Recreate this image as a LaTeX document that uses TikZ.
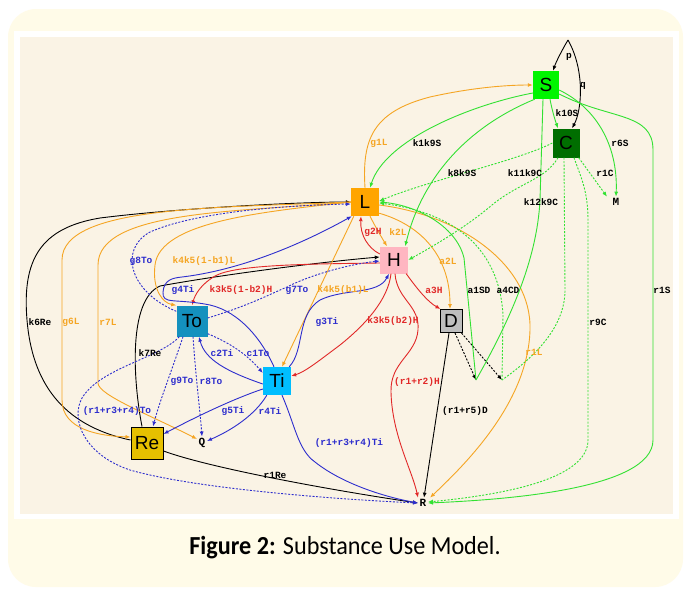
\documentclass[tikz,border=0pt]{standalone}
\usepackage{fontspec}
\setmainfont{Liberation Sans}
\newfontfamily\labfont{Liberation Mono}
\newfontfamily\capfont{Carlito}
\usetikzlibrary{arrows.meta,calc}
\definecolor{cS}{RGB}{0,245,0}
\definecolor{cC}{RGB}{0,110,0}
\definecolor{cL}{RGB}{255,165,0}
\definecolor{cH}{RGB}{255,182,193}
\definecolor{cD}{RGB}{190,190,190}
\definecolor{cTo}{RGB}{20,145,190}
\definecolor{cTi}{RGB}{0,190,255}
\definecolor{cRe}{RGB}{230,192,0}
\definecolor{eG}{RGB}{50,225,50}
\definecolor{eO}{RGB}{245,165,35}
\definecolor{eB}{RGB}{45,45,205}
\definecolor{eR}{RGB}{225,40,40}
\definecolor{bgIn}{RGB}{250,243,229}
\definecolor{bgOut}{RGB}{255,251,232}
\tikzset{
  box/.style={draw=none, inner sep=0pt, font=\fontsize{19}{19}\selectfont},
  pnode/.style={font=\labfont\bfseries\fontsize{11}{11}\selectfont, inner sep=1.5pt},
  lb/.style={font=\labfont\bfseries\fontsize{9.5}{10}\selectfont, inner sep=0pt},
  ar/.style={-{Latex[length=5pt,width=4pt]}, line width=0.9pt},
  ln/.style={line width=0.9pt},
  dsh/.style={dash pattern=on 2pt off 1.5pt},
}
\begin{document}
\begin{tikzpicture}[x=1pt,y=-1pt]
\useasboundingbox (0,0) rectangle (690,592);
\fill[white] (0,0) rectangle (690,592);
\fill[bgOut] (8,9) [rounded corners=28pt] rectangle (683,587);
\fill[white] (14,31) rectangle (679,519);
\fill[bgIn] (20,37) rectangle (673,514);

% nodes
\node[box,fill=cS,minimum width=26pt,minimum height=28pt] (S) at (546,85) {S};
\node[box,fill=cC,minimum width=27pt,minimum height=29pt] (C) at (566,143) {C};
\node[box,fill=cL,minimum width=28pt,minimum height=28pt] (L) at (365,202) {L};
\node[box,fill=cH,minimum width=28pt,minimum height=27pt] (H) at (394,260) {H};
\node[box,fill=cD,draw=black,line width=1pt,minimum width=22pt,minimum height=23pt] (D) at (451,321) {D};
\node[box,fill=cTo,minimum width=31pt,minimum height=31pt] (To) at (192,321) {To};
\node[box,fill=cTi,minimum width=28pt,minimum height=28pt] (Ti) at (277,381) {Ti};
\node[box,fill=cRe,draw=black,line width=1pt,minimum width=32pt,minimum height=32pt] (Re) at (147,443) {Re};
\node[pnode] (M) at (616,202) {M};
\node[pnode] (Q) at (202,443) {Q};
\node[pnode] (R) at (423,503) {R};
\coordinate (P0) at (568,40);
\coordinate (J1) at (476,380);
\coordinate (J2) at (502,380);

% black edges
\draw[ar] (P0) .. controls (562,50) and (556,62) .. ($(S.north)+(7,0)$);
\draw[ar] (P0) .. controls (585,70) and (582,110) .. ($(C.north)+(6,0)$);
\draw[ar] ($(Re.west)+(0,-3)$) .. controls (60,425) and (32,380) .. (27,320) .. controls (22,260) and (40,228) .. (100,218) .. controls (180,208) and (300,202) .. (L.west);
\draw[ar] ($(Re.north)+(-5,0)$) .. controls (133,380) and (128,300) .. (160,286) .. controls (220,275) and (320,262) .. ($(H.west)+(0,-3)$);
\draw[ar] ($(Re.east)+(0,8)$) .. controls (210,468) and (330,490) .. (R.west);
\draw[ar] ($(D.south)+(-2,0)$) -- ($(R.north)+(1,0)$);
\draw[ar,dsh] ($(D.south)+(4,0)$) -- (J1);
\draw[ar,dsh] ($(D.south east)+(-1,0)$) -- (J2);

% orange edges
\draw[ar,eO] (L.north) .. controls (362,140) and (372,112) .. (430,97) .. controls (470,88) and (505,85) .. (S.west);
\draw[ar,eO] (L.west) .. controls (220,208) and (62,205) .. (62,260) -- (62,400) .. controls (62,430) and (100,436) .. ($(Re.west)+(0,-6)$);
\draw[ar,eO] (L.west) .. controls (240,212) and (98,210) .. (98,265) -- (98,383) .. controls (98,395) and (150,415) .. ($(Q.west)+(0,-4)$);
\draw[ar,eO] (L.west) .. controls (260,212) and (160,222) .. (155,265) .. controls (152,290) and (163,303) .. (To.north west);
\draw[ar,eO] ($(L.south west)+(3,0)$) -- ($(Ti.north)+(5,0)$);
\draw[ar,eO] ($(L.south)+(5,0)$) .. controls (376,228) and (382,238) .. ($(H.north)+(-7,0)$);
\draw[ar,eO] ($(L.south east)+(0,-3)$) .. controls (420,225) and (450,255) .. ($(D.north)+(-1,0)$);
\draw[ar,eO] ($(L.east)+(0,3)$) .. controls (460,215) and (532,265) .. (530,330) .. controls (528,400) and (470,460) .. ($(R.north east)+(2,0)$);

% red edges
\draw[ar,eR] ($(H.west)+(0,-6)$) .. controls (368,248) and (360,235) .. ($(L.south)+(-4,0)$);
\draw[ar,eR] ($(H.west)+(0,3)$) .. controls (300,264) and (235,265) .. (215,276) .. controls (200,285) and (195,295) .. (To.north);
\draw[ar,eR] ($(H.south)+(-3,0)$) .. controls (388,300) and (365,325) .. (340,345) .. controls (320,360) and (305,372) .. ($(Ti.east)+(0,-5)$);
\draw[ar,eR] ($(H.south east)+(-2,0)$) .. controls (418,290) and (428,302) .. ($(D.north west)+(1,0)$);
\draw[ar,eR] ($(H.south)+(1,0)$) .. controls (397,300) and (420,305) .. (418,330) .. controls (416,355) and (390,362) .. (391,392) .. controls (392,435) and (412,470) .. ($(R.north)+(-5,0)$);

% blue edges
\draw[ar,eB] ($(Ti.north)+(-3,0)$) .. controls (262,340) and (240,312) .. (210,305) .. controls (175,298) and (162,305) .. (163,292) .. controls (164,280) and (172,278) .. (182,277) .. controls (240,270) and (300,245) .. ($(L.south west)+(1,0)$);
\draw[ar,eB] ($(Ti.north east)+(-2,0)$) .. controls (305,350) and (296,315) .. (320,300) .. controls (345,288) and (378,295) .. ($(H.south)+(-5,0)$);
\draw[ar,eB] ($(Ti.west)+(0,3)$) .. controls (228,372) and (205,360) .. ($(To.south)+(7,0)$);
\draw[ar,eB] ($(Ti.west)+(0,8)$) .. controls (230,400) and (190,420) .. ($(Re.east)+(0,-9)$);
\draw[ar,eB] ($(Ti.south west)+(4,0)$) .. controls (255,415) and (232,430) .. ($(Q.east)+(0,-2)$);
\draw[ar,eB] ($(Ti.south)+(5,0)$) .. controls (295,425) and (298,450) .. (315,462) .. controls (340,482) and (380,496) .. (R.west);
\draw[ar,eB,dsh] ($(To.north west)+(0,6)$) .. controls (130,292) and (118,250) .. (150,232) .. controls (200,210) and (300,205) .. ($(L.west)+(0,2)$);
\draw[ar,eB,dsh] ($(To.east)+(0,-3)$) .. controls (250,305) and (268,295) .. (287,287) .. controls (310,275) and (350,264) .. ($(H.west)+(0,1)$);
\draw[ar,eB,dsh] ($(To.south east)+(0,-3)$) .. controls (235,345) and (250,358) .. ($(Ti.west)+(0,-8)$);
\draw[ar,eB,dsh] ($(To.south)+(-9,0)$) .. controls (172,370) and (160,400) .. ($(Re.north)+(6,0)$);
\draw[ar,eB,dsh] ($(To.south)+(1,0)$) .. controls (196,380) and (200,410) .. (Q.north);
\draw[ar,eB,dsh] ($(To.south west)+(3,0)$) .. controls (160,358) and (100,368) .. (82,398) .. controls (70,420) and (85,455) .. (130,470) .. controls (200,490) and (350,500) .. (R.west);

% green edges
\draw[ar,eG] ($(S.south)+(4,0)$) .. controls (552,110) and (555,120) .. ($(C.north)+(-8,0)$);
\draw[ar,eG] ($(S.west)+(0,8)$) .. controls (470,105) and (385,140) .. ($(L.north)+(5,0)$);
\draw[ar,eG] ($(S.south west)+(2,0)$) .. controls (460,130) and (420,185) .. ($(H.north east)+(-3,0)$);
\draw[ar,eG] ($(S.east)+(0,5)$) .. controls (600,110) and (618,150) .. (M.north);
\draw[ar,eG] ($(S.east)+(0,9)$) .. controls (610,120) and (653,112) .. (653,150) -- (653,440) .. controls (653,490) and (500,500) .. (R.east);
\draw[ln,eG] ($(S.south)+(-3,0)$) -- (540,200) .. controls (537,260) and (510,320) .. (J1);
\draw[ar,eG] (J1) -- (464,258) .. controls (456,225) and (415,205) .. (L.east);
\draw[ar,eG,dsh] (C.west) .. controls (520,160) and (430,180) .. ($(L.east)+(0,-1)$);
\draw[ar,eG,dsh] ($(C.south)+(-8,0)$) .. controls (545,180) and (520,182) .. (492,205) .. controls (465,228) and (430,248) .. (H.east);
\draw[ar,eG,dsh] ($(C.south east)+(-1,0)$) -- ($(M.north west)+(-4,0)$);
\draw[ln,eG,dsh] ($(C.south)+(-2,0)$) -- (565,290) .. controls (565,330) and (530,360) .. (J2);
\draw[ar,eG,dsh] ($(C.south)+(8,0)$) .. controls (580,175) and (588,190) .. (588,220) -- (588,440) .. controls (588,480) and (500,495) .. ($(R.east)+(0,-1)$);
\draw[ar,eG,dsh] (J2) -- (503,315) .. controls (500,262) and (470,215) .. ($(L.east)+(0,1)$);

% labels black
\node[lb] (lp) at (569,57) {p};
\node[lb] (lq) at (583,86) {q};
\node[lb] (lk10S) at (567,113) {k10S};
\node[lb] (lk1k9S) at (427,143) {k1k9S};
\node[lb] (lr6S) at (620,143) {r6S};
\node[lb] (lk8k9S) at (462,173) {k8k9S};
\node[lb] (lk11k9C) at (525,173) {k11k9C};
\node[lb] (lr1C) at (605,173) {r1C};
\node[lb] (lk12k9C) at (541,202) {k12k9C};
\node[lb] (la1SD) at (479,290) {a1SD};
\node[lb] (la4CD) at (508,290) {a4CD};
\node[lb] (lr9C) at (598,322) {r9C};
\node[lb] (lr1S) at (662,290) {r1S};
\node[lb] (lk6Re) at (40,322) {k6Re};
\node[lb] (lk7Re) at (150,353) {k7Re};
\node[lb] (lr1Re) at (275,475) {r1Re};
\node[lb] (lr15D) at (465,411) {(r1+r5)D};
% labels orange
\begin{scope}[every node/.style={text=eO}]
\node[lb] (lg1L) at (379,143) {g1L};
\node[lb] (lg6L) at (71,322) {g6L};
\node[lb] (lr7L) at (108,322) {r7L};
\node[lb] (lk45a) at (204,261) {k4k5(1-b1)L};
\node[lb] (lk45b) at (343,290) {k4k5(b1)L};
\node[lb] (lk2L) at (398,232) {k2L};
\node[lb] (la2L) at (448,261) {a2L};
\node[lb] (lr1L) at (534,352) {r1L};
\end{scope}
% labels red
\begin{scope}[every node/.style={text=eR}]
\node[lb] (lg2H) at (373,232) {g2H};
\node[lb] (lk35a) at (241,290) {k3k5(1-b2)H};
\node[lb] (lk35b) at (393,321) {k3k5(b2)H};
\node[lb] (la3H) at (434,290) {a3H};
\node[lb] (lr12H) at (417,382) {(r1+r2)H};
\end{scope}
% labels blue
\begin{scope}[every node/.style={text=eB}]
\node[lb] (lg8To) at (141,261) {g8To};
\node[lb] (lg4Ti) at (183,290) {g4Ti};
\node[lb] (lg7To) at (297,290) {g7To};
\node[lb] (lg3Ti) at (327,322) {g3Ti};
\node[lb] (lc2Ti) at (222,353) {c2Ti};
\node[lb] (lc1To) at (258,353) {c1To};
\node[lb] (lg9To) at (182,381) {g9To};
\node[lb] (lr8To) at (211,381) {r8To};
\node[lb] (lrTo) at (117,411) {(r1+r3+r4)To};
\node[lb] (lg5Ti) at (233,411) {g5Ti};
\node[lb] (lr4Ti) at (270,411) {r4Ti};
\node[lb] (lrTi) at (349,443) {(r1+r3+r4)Ti};
\end{scope}

% caption
\node[font=\capfont\fontsize{26}{30}\selectfont, inner sep=0pt] (cap) at (345,548) {\scalebox{0.93}[1]{\textbf{Figure 2:} Substance Use Model.}};
\end{tikzpicture}
\end{document}
